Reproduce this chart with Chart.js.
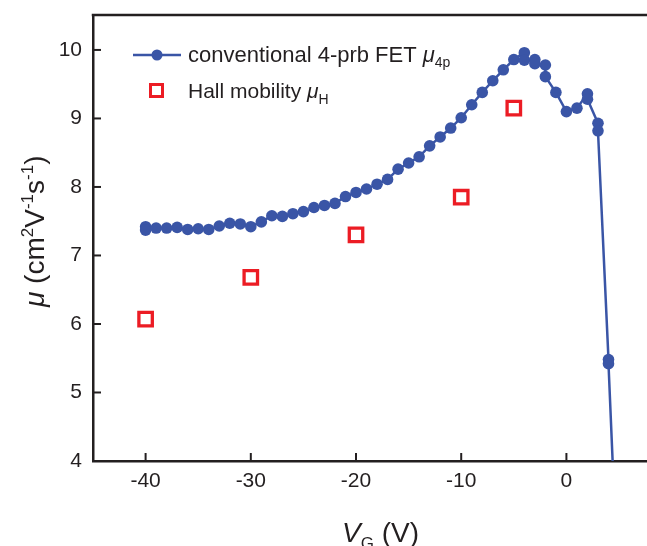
<!DOCTYPE html>
<html><head><meta charset="utf-8">
<script src="https://cdn.jsdelivr.net/npm/chart.js@4"></script>
<style>html,body{margin:0;padding:0;background:#fff}#wrap{width:647px;height:546px}</style>
</head><body><div id="wrap"><canvas id="c" width="647" height="546"></canvas></div>
<script>
// ---- data ----
const fetV  = [-40, -40, -39, -38, -37, -36, -35, -34, -33, -32, -31, -30, -29, -28, -27, -26, -25, -24, -23, -22, -21, -20, -19, -18, -17, -16, -15, -14, -13, -12, -11, -10, -9, -8, -7, -6, -5, -4, -4, -3, -3, -2, -2, -1, 0, 1, 2, 2, 3, 3, 4, 4, 5];
const fetMu = [7.42, 7.37, 7.40, 7.40, 7.41, 7.38, 7.39, 7.38, 7.43, 7.47, 7.46, 7.42, 7.49, 7.58, 7.57, 7.61, 7.64, 7.70, 7.73, 7.76, 7.86, 7.92, 7.97, 8.04, 8.11, 8.26, 8.35, 8.44, 8.60, 8.73, 8.86, 9.01, 9.20, 9.38, 9.55, 9.71, 9.86, 9.96, 9.85, 9.86, 9.80, 9.78, 9.61, 9.38, 9.10, 9.15, 9.36, 9.28, 8.93, 8.82, 5.48, 5.42, 1.80];
const hallV  = [-40, -30, -20, -10, -5];
const hallMu = [6.07, 6.68, 7.30, 7.85, 9.15];
const xTicks = [-40, -30, -20, -10, 0];
const yTicks = [4, 5, 6, 7, 8, 9, 10];
const seriesNames = ['conventional 4-prb FET ', 'Hall mobility '];
const seriesSubs = ['4p', 'H'];

const BLUE = '#3a55a6', RED = '#ec1c24', AX = '#231f20';
const FONT = '"Liberation Sans", Arial, Helvetica, sans-serif';

function drawRuns(ctx, x, y, runs) {
  for (const r of runs) {
    ctx.font = r.font;
    ctx.fillText(r.t, x, y + (r.dy || 0));
    x += ctx.measureText(r.t).width;
  }
}

const deco = {
  id: 'deco',
  afterLayout(chart) {
    // let the plot box run to the right edge of the canvas, as in the reference
    const a = chart.chartArea, x = chart.scales.x;
    a.right = chart.width; a.width = a.right - a.left;
    x.right = chart.width; x.width = x.right - x.left; x.configure();
  },
  afterDraw(chart) {
    const { ctx, chartArea: a, scales: { x, y } } = chart;
    ctx.save();
    ctx.strokeStyle = AX;
    ctx.lineWidth = 2.5;
    ctx.beginPath(); ctx.moveTo(a.left - 1.25, a.top); ctx.lineTo(a.right, a.top); ctx.stroke();
    ctx.lineWidth = 2;
    x.ticks.forEach(t => { const p = x.getPixelForValue(t.value); ctx.beginPath(); ctx.moveTo(p, a.bottom); ctx.lineTo(p, a.bottom - 8); ctx.stroke(); });
    y.ticks.forEach(t => { const p = y.getPixelForValue(t.value); ctx.beginPath(); ctx.moveTo(a.left, p); ctx.lineTo(a.left + 8, p); ctx.stroke(); });

    // legend
    ctx.textBaseline = 'alphabetic';
    ctx.strokeStyle = BLUE; ctx.lineWidth = 2.5;
    ctx.beginPath(); ctx.moveTo(133, 55); ctx.lineTo(181, 55); ctx.stroke();
    ctx.fillStyle = BLUE; ctx.beginPath(); ctx.arc(157, 55, 5.5, 0, Math.PI * 2); ctx.fill();
    ctx.strokeStyle = RED; ctx.lineWidth = 3;
    ctx.strokeRect(150.5, 84.5, 12, 12);
    ctx.fillStyle = '#231f20';
    drawRuns(ctx, 188, 62, [
      { t: seriesNames[0], font: '22px ' + FONT },
      { t: 'μ', font: 'italic 22px ' + FONT },
      { t: seriesSubs[0], font: '14px ' + FONT, dy: 5 }
    ]);
    drawRuns(ctx, 188, 98, [
      { t: seriesNames[1], font: '21px ' + FONT },
      { t: 'μ', font: 'italic 21px ' + FONT },
      { t: seriesSubs[1], font: '14px ' + FONT, dy: 6 }
    ]);

    // x title
    drawRuns(ctx, 342, 542, [
      { t: 'V', font: 'italic 28px ' + FONT },
      { t: 'G', font: '17px ' + FONT, dy: 7 },
      { t: ' (V)', font: '28px ' + FONT }
    ]);
    // y title
    ctx.translate(44, 307);
    ctx.rotate(-Math.PI / 2);
    drawRuns(ctx, 0, 0, [
      { t: 'μ', font: 'italic 28px ' + FONT },
      { t: ' (cm', font: '28px ' + FONT },
      { t: '2', font: '17px ' + FONT, dy: -11 },
      { t: 'V', font: '28px ' + FONT },
      { t: '-1', font: '17px ' + FONT, dy: -11 },
      { t: 's', font: '28px ' + FONT },
      { t: '-1', font: '17px ' + FONT, dy: -11 },
      { t: ')', font: '28px ' + FONT }
    ]);
    ctx.restore();
  }
};

new Chart(document.getElementById('c'), {
  type: 'scatter',
  data: {
    datasets: [
      {
        label: seriesNames[0] + 'μ' + seriesSubs[0],
        data: fetV.map((v, i) => ({ x: v, y: fetMu[i] })),
        showLine: true,
        borderColor: BLUE, backgroundColor: BLUE,
        borderWidth: 2.5, pointRadius: 5.8, pointBorderWidth: 0,
        pointBackgroundColor: BLUE
      },
      {
        label: seriesNames[1] + 'μ' + seriesSubs[1],
        data: hallV.map((v, i) => ({ x: v, y: hallMu[i] })),
        pointStyle: 'rect', pointRadius: 9.5, pointBorderWidth: 3.3,
        borderColor: RED, pointBorderColor: RED, pointBackgroundColor: 'rgba(255,255,255,0)',
        backgroundColor: 'rgba(255,255,255,0)'
      }
    ]
  },
  options: {
    responsive: false, animation: false, events: [],
    layout: { padding: { top: 15, right: 0, left: 0, bottom: 0 } },
    plugins: { legend: { display: false }, tooltip: { enabled: false } },
    scales: {
      x: {
        type: 'linear', min: -45, max: 7.66,
        afterBuildTicks: s => { s.ticks = xTicks.map(v => ({ value: v })); },
        afterFit: s => { s.height = 85; s.paddingLeft = 0; s.paddingRight = 0; },
        grid: { display: true, drawOnChartArea: false, drawTicks: false },
        border: { display: true, color: AX, width: 2.5 },
        ticks: { color: AX, font: { family: FONT, size: 21 }, padding: 8, maxRotation: 0 }
      },
      y: {
        type: 'linear', min: 4, max: 10.51,
        afterBuildTicks: s => { s.ticks = yTicks.map(v => ({ value: v })); },
        afterFit: s => { s.width = 93; s.paddingTop = 0; s.paddingBottom = 0; },
        grid: { display: true, drawOnChartArea: false, drawTicks: false },
        border: { display: true, color: AX, width: 2.5 },
        ticks: { color: AX, font: { family: FONT, size: 21 }, padding: 11 }
      }
    }
  },
  plugins: [deco]
});
</script>
</body></html>
